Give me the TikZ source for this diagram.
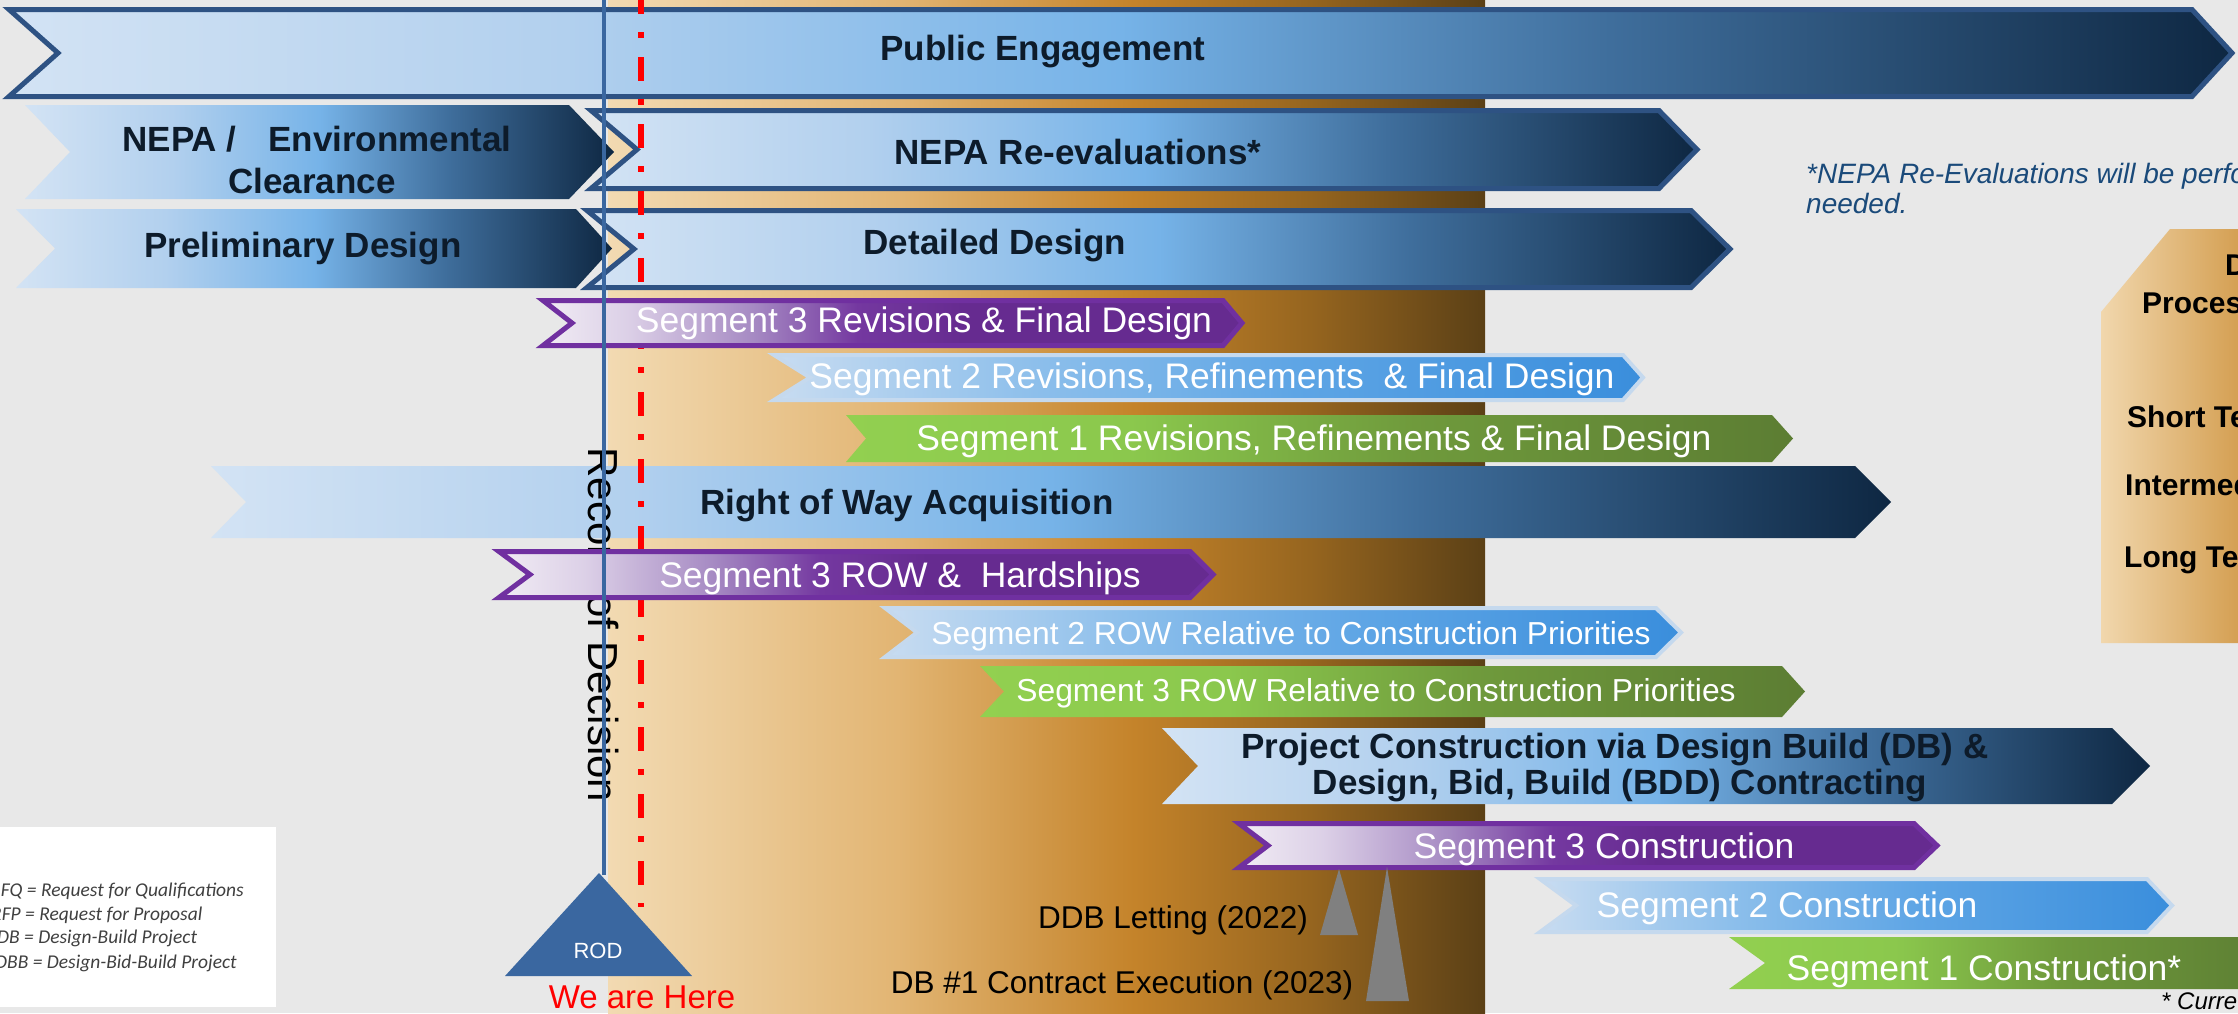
\documentclass[tikz,border=0pt]{standalone}
\usepackage{fontspec}
\setmainfont{Liberation Sans}
\newfontfamily\legfont{Carlito}
\definecolor{bgc}{HTML}{E8E8E8}
\definecolor{txtnavy}{HTML}{0D1B2A}
\definecolor{bordblue}{HTML}{2E5283}
\definecolor{blA}{HTML}{D3E3F4}
\definecolor{blB}{HTML}{B2D0EE}
\definecolor{blC}{HTML}{76B3E8}
\definecolor{blD}{HTML}{3F6E9C}
\definecolor{blE}{HTML}{0E2742}
\definecolor{purpbd}{HTML}{7030A0}
\definecolor{pA}{HTML}{F1ECF4}
\definecolor{pB}{HTML}{DCD0E7}
\definecolor{pC}{HTML}{A68AC3}
\definecolor{pD}{HTML}{7438A0}
\definecolor{pE}{HTML}{662B90}
\definecolor{sA}{HTML}{C8DCF1}
\definecolor{sB}{HTML}{8DBFEB}
\definecolor{sC}{HTML}{5EA5E5}
\definecolor{sD}{HTML}{3A8EDC}
\definecolor{segbd}{HTML}{C5D9EE}
\definecolor{gA}{HTML}{92D050}
\definecolor{gB}{HTML}{8BC84D}
\definecolor{gC}{HTML}{6F9A3C}
\definecolor{gD}{HTML}{5C7D33}
\definecolor{tA}{HTML}{F2DAB2}
\definecolor{tB}{HTML}{E2B573}
\definecolor{tC}{HTML}{C4832A}
\definecolor{tD}{HTML}{96651F}
\definecolor{tE}{HTML}{5B4016}
\definecolor{dA}{HTML}{F1D7AD}
\definecolor{dB}{HTML}{D49F52}
\definecolor{rodblue}{HTML}{3A67A0}
\definecolor{notec}{HTML}{1A4A7A}
\definecolor{legc}{HTML}{404040}
\definecolor{trigrey}{HTML}{808080}
\pgfdeclarehorizontalshading{bluebar}{100bp}{color(0bp)=(blA); color(25bp)=(blA); color(37.5bp)=(blB); color(50bp)=(blC); color(61bp)=(blD); color(75bp)=(blE); color(100bp)=(blE)}
\pgfdeclarehorizontalshading{purpbar}{100bp}{color(0bp)=(pA); color(25bp)=(pA); color(31bp)=(pB); color(40bp)=(pC); color(47.5bp)=(pD); color(55bp)=(pE); color(100bp)=(pE)}
\pgfdeclarehorizontalshading{segbar}{100bp}{color(0bp)=(sA); color(25bp)=(sA); color(40bp)=(sB); color(55bp)=(sC); color(75bp)=(sD); color(100bp)=(sD)}
\pgfdeclarehorizontalshading{grnbar}{100bp}{color(0bp)=(gA); color(25bp)=(gA); color(40bp)=(gB); color(55bp)=(gC); color(75bp)=(gD); color(100bp)=(gD)}
\pgfdeclarehorizontalshading{tanbar}{100bp}{color(0bp)=(tA); color(25bp)=(tA); color(41.5bp)=(tB); color(55bp)=(tC); color(65bp)=(tD); color(75bp)=(tE); color(100bp)=(tE)}
\newcommand\chev[7][]{\path[#1] (#2,#6) -- (#4,#6) -- (#5,{(#6+#7)/2}) -- (#4,#7) -- (#2,#7) -- (#3,{(#6+#7)/2}) -- cycle;}
\tikzset{
  bbd/.style={shade, shading=bluebar, draw=bordblue, line width=5pt},
  bnb/.style={shade, shading=bluebar},
  pbar/.style={shade, shading=purpbar, draw=purpbd, line width=5pt},
  sbar/.style={shade, shading=segbar, draw=segbd, line width=4pt},
  gbar/.style={shade, shading=grnbar},
  bt/.style={font=\fontsize{35}{40}\selectfont\bfseries, text=txtnavy, anchor=base, inner sep=0pt},
  wt/.style={font=\fontsize{35.5}{40}\selectfont, text=white, anchor=base, inner sep=0pt},
  wts/.style={font=\fontsize{31.8}{36}\selectfont, text=white, anchor=base, inner sep=0pt},
  dt/.style={font=\fontsize{30}{34}\selectfont\bfseries, text=black, anchor=base west, inner sep=0pt},
  lt/.style={font=\legfont\itshape\fontsize{19.5}{22}\selectfont, text=legc, anchor=base west, inner sep=0pt},
  mt/.style={font=\fontsize{31.5}{36}\selectfont, text=black, anchor=base, inner sep=0pt}
}
\begin{document}
\begin{tikzpicture}[x=1pt,y=-1pt]
\useasboundingbox (0,0) rectangle (2238,1013);
\clip (0,0) rectangle (2238,1013);
\fill[bgc] (0,0) rectangle (2238,1013);
% tan band
\path[shade, shading=tanbar] (608,0) rectangle (1485,1013);
% legend
\fill[white] (0,827) rectangle (276,1007);
\node[lt] (l1) at (-10,896) {RFQ = Request for Qualifications};
\node[lt] (l2) at (-9,920) {RFP = Request for Proposal};
\node[lt] (l3) at (-3,943) {DB = Design-Build Project};
\node[lt] (l4) at (-5,968) {DBB = Design-Bid-Build Project};
% right box
\path[shade, left color=dA, right color=dB] (2170,229) -- (2240,229) -- (2240,643) -- (2101,643) -- (2101,312) -- cycle;
\node[dt] (d1) at (2225,275) {D};
\node[dt] (d2) at (2142,313) {Proces};
\node[dt] (d3) at (2127,427) {Short Te};
\node[dt] (d4) at (2125,495) {Intermed};
\node[dt] (d5) at (2124,567) {Long Te};
% note
\node[font=\itshape\fontsize{28}{32}\selectfont, text=notec, anchor=base west, inner sep=0pt] (n1) at (1806,183) {*NEPA Re-Evaluations will be perfo};
\node[font=\itshape\fontsize{28}{32}\selectfont, text=notec, anchor=base west, inner sep=0pt] (n2) at (1806,213) {needed.};
% blue / green bars
\chev[bbd]{9}{58}{2192}{2232}{9.5}{96.5}
\node[bt] (pe) at (1043,60) {Public Engagement};
\chev[bbd]{591}{637}{1659}{1697}{110.5}{188.5}
\node[bt] (reeval) at (1078,164) {NEPA Re-evaluations*};
\chev[bnb]{25}{70}{569}{614}{105}{199}
\node[bt] (nepa1) at (317,151) {NEPA /\hspace{32pt}Environmental};
\node[bt] (nepa2) at (312,193) {Clearance};
\chev[bbd]{587}{634}{1691}{1730}{210.5}{287.5}
\node[bt] (detail) at (995,254) {Detailed Design};
\chev[bnb]{16}{55}{576}{612}{209}{288}
\node[bt] (prelim) at (303,257) {Preliminary Design};
\chev[sbar]{774}{810}{1623}{1643}{355}{400}
\node[wt] (s2rev) at (1212,388) {Segment 2 Revisions, Refinements~ \& Final Design};
\chev[gbar]{846}{866}{1772}{1793}{415}{462}
\node[wt] (s1rev) at (1314,450) {Segment 1 Revisions, Refinements \& Final Design};
\chev[bnb]{211}{246}{1855}{1891}{466}{538}
\node[bt] (row) at (907,514) {Right of Way Acquisition};
\chev[sbar]{885}{917}{1656}{1681}{608}{657}
\node[wts] (s2rowr) at (1291,644) {Segment 2 ROW Relative to Construction Priorities};
\chev[gbar]{980}{1004}{1782}{1805}{666}{717}
\node[wts] (s3rowr) at (1376,701) {Segment 3 ROW Relative to Construction Priorities};
\chev[bnb]{1162}{1198}{2112}{2150}{728}{804}
\node[bt] (proj1) at (1615,758) {Project Construction via Design Build (DB) \&};
\node[bt] (proj2) at (1620,794) {Design, Bid, Build (BDD) Contracting};
\chev[sbar]{1540}{1576}{2147}{2172}{879}{932}
\node[wt] (s2con) at (1787,917) {Segment 2 Construction};
\chev[gbar]{1729}{1765}{2260}{2280}{937}{989}
\node[wt] (s1con) at (1984,980) {Segment 1 Construction*};
% red line
\draw[red, line width=6pt, dash pattern=on 24pt off 18pt on 6pt off 19pt, dash phase=10pt] (641,0) -- (641,907);
% record of decision
\node[font=\fontsize{42}{46}\selectfont, text=black, rotate=-90, anchor=base, inner sep=0pt] (rec) at (588,625) {Record of Decision};
% purple bars
\chev[pbar]{543}{572}{1223}{1242}{300.5}{345.5}
\node[wt] (s3rev) at (924,332) {Segment 3 Revisions \& Final Design};
\chev[pbar]{499}{530}{1190}{1213}{551.5}{597.5}
\node[wt] (s3row) at (900,587) {Segment 3 ROW \&~ Hardships};
\chev[pbar]{1239}{1268}{1914}{1937}{823.5}{867.5}
\node[wt] (s3con) at (1604,858) {Segment 3 Construction};
% ROD line and triangle
\draw[rodblue, line width=4pt] (604,0) -- (604,875);
\fill[rodblue] (599,873) -- (692,976) -- (505,976) -- cycle;
\node[font=\fontsize{22}{26}\selectfont, text=white, anchor=base, inner sep=0pt] (rod) at (598,958) {ROD};
\node[font=\fontsize{33}{38}\selectfont, text=red, anchor=base, inner sep=0pt] (here) at (642,1008) {We are Here};
% milestones
\fill[trigrey] (1339,869) -- (1358,935) -- (1320,935) -- cycle;
\fill[trigrey] (1387,867) -- (1409,1001) -- (1366,1001) -- cycle;
\node[mt] (ddb) at (1173,928) {DDB Letting (2022)};
\node[mt] (db1) at (1122,993) {DB \#1 Contract Execution (2023)};
\node[font=\itshape\fontsize{24}{28}\selectfont, text=black, anchor=base west, inner sep=0pt] (cur) at (2161,1009) {* Curre};
\end{tikzpicture}
\end{document}
